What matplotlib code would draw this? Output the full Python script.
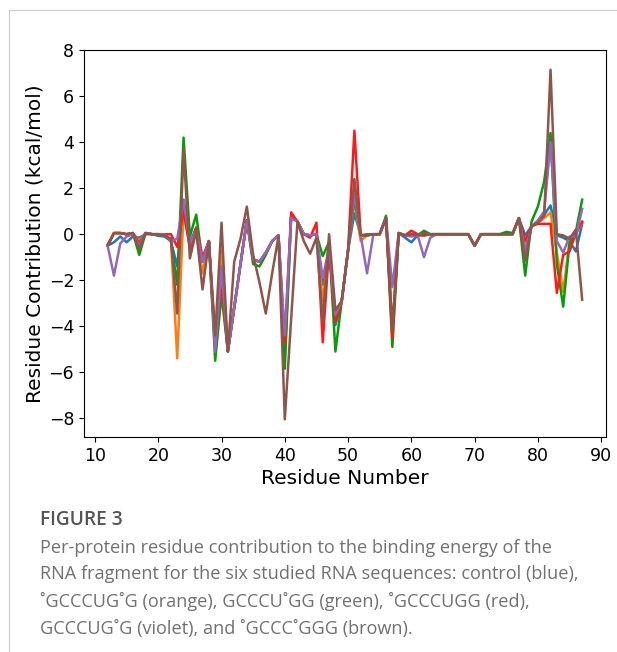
import matplotlib.pyplot as plt
import numpy as np

residues = np.arange(12, 88)

# per-residue contributions (kcal/mol)
control = [
    -0.5, -0.35, -0.1, -0.35, -0.1, -0.15, 0.0, 0.0, -0.07, -0.1,
    -0.3, -1.4, 1.5, -0.4, 0.3, -1.2, -0.3, -4.7, -2.0, -5.1,
    -3.2, -1.3, 0.6, -1.1, -1.2, -0.8, -0.3, -0.05, -5.3, 0.75,
    0.55, 0.0, -0.05, 0.0, -2.2, -0.6, -3.95, -2.9, -0.7, 0.9,
    -0.05, -0.05, 0.0, 0.0, 0.7, -4.2, 0.05, -0.15, -0.35, -0.05,
    -0.05, 0.0, 0.0, 0.0, 0.0, 0.0, 0.0, 0.0, -0.5, 0.0,
    0.0, 0.0, 0.0, 0.0, 0.0, 0.7, -0.05, 0.35, 0.5, 0.85,
    1.25, -0.05, -0.15, -0.3, -0.75, 0.45]
orange = [
    -0.5, 0.05, 0.05, 0.0, 0.05, -0.3, 0.05, 0.0, 0.0, -0.05,
    -0.2, -5.4, 1.0, -0.5, 0.2, -1.7, -0.3, -4.5, -0.7, -5.1,
    -3.2, -1.3, 0.6, -1.1, -1.2, -0.8, -0.3, -0.05, -5.0, 0.75,
    0.55, 0.0, -0.05, 0.0, -2.9, -0.6, -3.65, -2.9, -0.7, 1.45,
    -0.3, -0.05, 0.0, 0.0, 0.7, -4.2, 0.05, -0.05, -0.05, -0.05,
    -0.05, 0.0, 0.0, 0.0, 0.0, 0.0, 0.0, 0.0, -0.5, 0.0,
    0.0, 0.0, 0.0, 0.0, 0.0, 0.7, -0.5, 0.35, 0.5, 0.7,
    0.95, -0.8, -2.5, -0.3, 0.0, 0.5]
green = [
    -0.5, 0.05, 0.05, 0.0, 0.05, -0.9, 0.05, 0.0, 0.0, -0.05,
    -0.3, -2.2, 4.2, -0.1, 0.85, -1.2, -0.3, -5.5, -2.6, -5.1,
    -3.2, -1.3, 0.6, -1.3, -1.4, -0.9, -0.3, -0.05, -5.85, 0.75,
    0.55, 0.0, -0.05, 0.0, -0.95, -0.35, -5.1, -2.9, -0.7, 1.55,
    -0.05, -0.05, 0.0, 0.0, 0.8, -4.9, 0.05, -0.05, 0.0, -0.05,
    0.15, 0.0, 0.0, 0.0, 0.0, 0.0, 0.0, 0.0, -0.5, 0.0,
    0.0, 0.0, 0.0, 0.1, 0.05, 0.7, -1.8, 0.55, 1.2, 2.3,
    4.4, -1.3, -3.15, -0.4, 0.1, 1.5]
red = [
    -0.5, 0.05, 0.05, 0.0, 0.05, -0.4, 0.05, 0.0, 0.0, 0.0,
    0.0, -0.55, 1.0, -0.6, 0.25, -1.0, -0.3, -4.9, -2.0, -5.1,
    -3.2, -1.3, 0.6, -1.1, -1.2, -0.8, -0.3, -0.05, -4.7, 0.95,
    0.55, 0.0, -0.15, 0.5, -4.7, -0.6, -3.8, -2.9, -0.7, 4.5,
    -0.05, 0.0, 0.0, 0.0, 0.7, -4.5, 0.05, -0.05, 0.15, 0.0,
    -0.05, 0.0, 0.0, 0.0, 0.0, 0.0, 0.0, 0.0, -0.5, 0.0,
    0.0, 0.0, 0.0, 0.0, 0.0, 0.7, -0.3, 0.35, 0.45, 0.45,
    0.45, -2.55, -0.9, -0.75, 0.05, 0.55]
violet = [
    -0.5, -1.8, -0.4, -0.1, 0.0, -0.5, 0.05, 0.0, 0.0, 0.0,
    -0.3, -0.2, 1.5, -0.4, 0.15, -1.2, -0.3, -5.1, -1.4, -5.1,
    -3.2, -1.3, 0.6, -1.1, -1.2, -0.8, -0.3, -0.05, -4.4, 0.7,
    0.55, 0.0, -0.05, 0.0, -1.9, -0.6, -3.5, -2.9, -0.7, 1.75,
    -0.05, -1.7, 0.0, 0.0, 0.7, -2.3, 0.05, -0.05, -0.1, -0.05,
    -1.0, -0.15, 0.0, 0.0, 0.0, 0.0, 0.0, 0.0, -0.5, 0.0,
    0.0, 0.0, 0.0, 0.0, 0.0, 0.7, -0.75, 0.35, 0.6, 1.0,
    4.0, -0.3, -0.8, -0.1, -0.1, 1.1]
brown = [
    -0.45, 0.05, 0.05, 0.0, 0.05, -0.65, 0.05, 0.0, 0.0, -0.05,
    -0.2, -3.45, 3.7, -1.05, 0.15, -2.4, -0.3, -4.4, 0.5, -5.1,
    -1.2, -0.2, 1.2, -0.9, -2.1, -3.45, -1.7, -0.1, -8.05, -3.7,
    0.55, -0.3, -0.85, -0.15, -3.8, 0.0, -3.3, -2.9, -0.7, 2.4,
    -0.05, -0.05, 0.0, 0.0, 0.7, -4.1, 0.05, -0.05, 0.0, -0.05,
    0.05, 0.0, 0.0, 0.0, 0.0, 0.0, 0.0, 0.0, -0.5, 0.0,
    0.0, 0.0, 0.0, 0.0, 0.0, 0.7, -1.15, 0.35, 0.5, 0.8,
    7.15, 0.0, -0.05, -0.2, 0.2, -2.85]

series = [control, orange, green, red, violet, brown]
colors = ['#1f77b4', '#ff7f0e', '#0a9a0a', '#ff1a1a', '#9467bd', '#8c564b']

caption = ("Per-protein residue contribution to the binding energy of the\n"
           "RNA fragment for the six studied RNA sequences: control (blue),\n"
           "\u02daGCCCUG\u02daG (orange), GCCCU\u02daGG (green), \u02daGCCCUGG (red),\n"
           "GCCCUG\u02daG (violet), and \u02daGCCC\u02daGGG (brown).")


def main():
    fig = plt.figure(figsize=(6.17, 6.52), dpi=100)
    ax = fig.add_axes([0.136, 0.330, 0.846, 0.593])

    for vals, c in zip(series, colors):
        ax.plot(residues, vals, color=c, linewidth=1.8)

    ax.set_xticks(range(10, 91, 10))
    ax.set_yticks(range(-8, 9, 2))
    ax.tick_params(labelsize=12.5)
    ax.set_xlabel("Residue Number", fontsize=14.5, labelpad=3)
    ax.set_ylabel("Residue Contribution (kcal/mol)", fontsize=14.5,
                  labelpad=3)

    # page frame lines
    fig.add_artist(plt.Line2D([9 / 617, 9 / 617], [0, 1 - 10 / 652],
                              color='#cccccc', linewidth=0.8))
    fig.add_artist(plt.Line2D([9 / 617, 1], [1 - 10 / 652, 1 - 10 / 652],
                              color='#cccccc', linewidth=0.8))

    fig.text(40 / 617, 1 - 520 / 652, "FIGURE 3", fontsize=13.8,
             family=['Open Sans', 'DejaVu Sans'], weight='semibold',
             color='#555555', va='center')
    fig.text(40 / 617, 1 - 539 / 652, caption, fontsize=13.1,
             family=['Open Sans', 'DejaVu Sans'], color='#707070', va='top',
             linespacing=1.6)

    fig.savefig("out.png", dpi=100)


if __name__ == "__main__":
    main()
